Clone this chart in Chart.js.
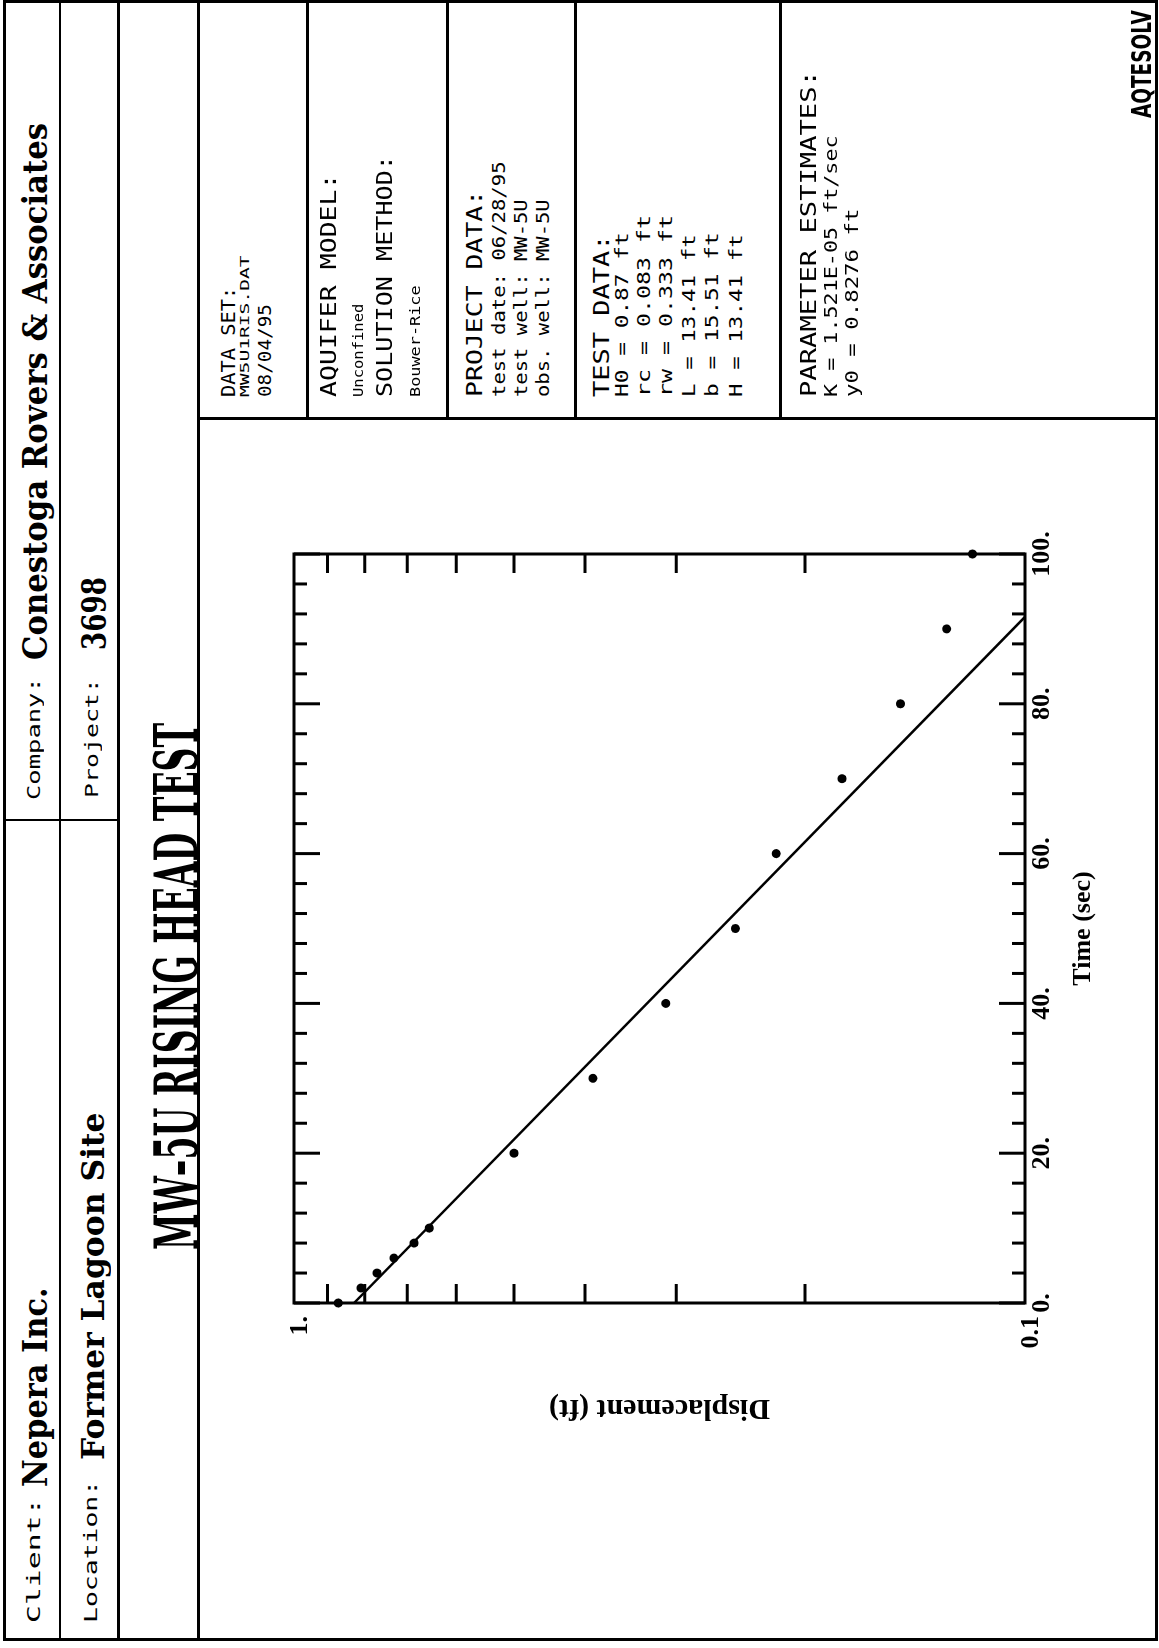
<!DOCTYPE html>
<html>
<head>
<meta charset="utf-8">
<script src="https://cdn.jsdelivr.net/npm/chart.js@4.4.0/dist/chart.umd.min.js"></script>
<style>
  html, body { margin: 0; padding: 0; background: #fff; }
  body { width: 1159px; height: 1648px; overflow: hidden; position: relative; }
  #page { position: absolute; left: 0; top: 0; width: 1648px; height: 1159px;
          transform-origin: 0 0; transform: translate(0, 1648px) rotate(-90deg); background: #fff; }
  .ln { position: absolute; background: #000; }
  .t { position: absolute; white-space: pre; line-height: 1; display: inline-block; transform-origin: 0 0; color: #000; }
  .mono { font-family: "DejaVu Sans Mono", monospace; }
  .bold { font-family: "DejaVu Serif", serif; font-weight: bold; }
  .sansb { font-family: "DejaVu Sans", sans-serif; font-weight: bold; }
  #chartBox { position: absolute; left: 7px; top: 199px; width: 1223px; height: 956px; }
</style>
</head>
<body>
<div id="page">
  <div id="chartBox"><canvas id="slugChart" width="1223" height="956"></canvas></div>
</div>
<script>
// measured values, time in seconds, displacement in feet
const timeSec = [0, 2, 4, 6, 8, 10, 20, 30, 40, 50, 60, 70, 80, 90, 100];
const dispFt = [0.87, 0.81, 0.77, 0.73, 0.685, 0.653, 0.50, 0.39, 0.31, 0.249, 0.219, 0.178, 0.148, 0.128, 0.118];

// Bouwer-Rice fitted line end points
const fitTime = [0, 91.6];
const fitDisp = [0.8276, 0.1];

// axis ticks
const timeMajor = [0, 20, 40, 60, 80, 100];
const timeMinor = [4, 8, 12, 16, 24, 28, 32, 36, 44, 48, 52, 56, 64, 68, 72, 76, 84, 88, 92, 96];
const dispTickValues = [0.1, 1];
const dispTickText = ['0.1', '1.'];
const dispMinor = [0.2, 0.3, 0.4, 0.5, 0.6, 0.7, 0.8, 0.9];

const page = document.getElementById('page');

function line(x, y, w, h) {
  const d = document.createElement('div');
  d.className = 'ln';
  d.style.left = x + 'px';
  d.style.top = y + 'px';
  d.style.width = w + 'px';
  d.style.height = h + 'px';
  page.appendChild(d);
}

function put(cls, str, x, base, size, w) {
  const el = document.createElement('div');
  el.className = 't ' + cls;
  el.textContent = str;
  el.style.fontSize = size + 'px';
  el.style.left = x + 'px';
  el.style.top = (base - 0.846 * size) + 'px';
  if (w) el.dataset.w = w;
  page.appendChild(el);
}

// frame
line(7, 3, 3, 1155);
line(1645, 3, 3, 1155);
line(7, 3, 1641, 3);
line(7, 1155, 1641, 3);
line(7, 59, 1641, 2);
line(7, 117, 1641, 3);
line(7, 197, 1641, 3);
line(827, 3, 2, 115);
line(1228, 197, 3, 961);
[306, 446, 574, 779].forEach(y => line(1228, y, 420, 3));

// header
put('mono', 'Client:', 25, 40, 17, 126);
put('bold', 'Nepera Inc.', 161, 47, 33, 200);
put('mono', 'Company:', 848, 40, 17, 123);
put('bold', 'Conestoga Rovers & Associates', 988, 47, 33, 537);
put('mono', 'Location:', 25, 97, 17, 143);
put('bold', 'Former Lagoon Site', 188, 104, 31, 347);
put('mono', 'Project:', 850, 98, 17, 120);
put('bold', '3698', 998, 106, 33, 73);
put('bold', 'MW\u20135U RISING HEAD TEST', 398, 197, 60, 527);

// info panel
put('mono', 'DATA SET:', 1251, 235, 20, 110);
put('mono', 'MW5U1RIS.DAT', 1251, 249, 12, 142);
put('mono', '08/04/95', 1251, 271, 17, 93);
put('mono', 'AQUIFER MODEL:', 1251, 337, 22, 223);
put('mono', 'Unconfined', 1251, 363, 14, 93);
put('mono', 'SOLUTION METHOD:', 1251, 393, 22, 242);
put('mono', 'Bouwer-Rice', 1251, 420, 14, 112);
put('mono', 'PROJECT DATA:', 1251, 483, 22, 207);
put('mono', 'test date: 06/28/95', 1251, 505, 17, 235);
put('mono', 'test well: MW-5U', 1251, 527, 17, 198);
put('mono', 'obs. well: MW-5U', 1251, 549, 17, 198);
put('mono', 'TEST DATA:', 1251, 610, 22, 162);
put('mono', 'H0 = 0.87 ft', 1251, 628, 17, 165);
put('mono', 'rc = 0.083 ft', 1251, 650, 17, 182);
put('mono', 'rw = 0.333 ft', 1251, 672, 17, 182);
put('mono', 'L = 13.41 ft', 1251, 695, 17, 163);
put('mono', 'b = 15.51 ft', 1251, 718, 17, 165);
put('mono', 'H = 13.41 ft', 1251, 742, 17, 163);
put('mono', 'PARAMETER ESTIMATES:', 1251, 817, 22, 327);
put('mono', 'K = 1.521E-05 ft/sec', 1251, 837, 17, 262);
put('mono', 'y0 = 0.8276 ft', 1251, 858, 17, 188);
put('sansb', 'AQTESOLV', 1530, 1151, 26, 108);

document.querySelectorAll('.t').forEach(el => {
  const w = el.offsetWidth;
  if (el.dataset.w && w) el.style.transform = 'scaleX(' + (el.dataset.w / w) + ')';
});

const frameTicks = {
  id: 'frameTicks',
  afterDatasetsDraw(chart) {
    const {ctx, chartArea: a, scales: {x, y}} = chart;
    ctx.save();
    ctx.strokeStyle = '#000';
    ctx.lineWidth = 3;
    ctx.strokeRect(a.left, a.top, a.right - a.left, a.bottom - a.top);
    ctx.beginPath();
    timeMajor.concat(timeMinor).forEach(v => {
      const len = timeMajor.includes(v) ? 26 : 13;
      const px = x.getPixelForValue(v);
      ctx.moveTo(px, a.top); ctx.lineTo(px, a.top + len);
      ctx.moveTo(px, a.bottom); ctx.lineTo(px, a.bottom - len);
    });
    dispMinor.forEach(v => {
      const py = y.getPixelForValue(v);
      ctx.moveTo(a.left, py); ctx.lineTo(a.left + 19, py);
      ctx.moveTo(a.right, py); ctx.lineTo(a.right - 19, py);
    });
    ctx.stroke();
    ctx.restore();
  }
};

const serifBold = {family: 'Liberation Serif', weight: 'bold'};

new Chart(document.getElementById('slugChart').getContext('2d'), {
  type: 'scatter',
  data: {
    datasets: [
      {
        label: 'Data',
        data: timeSec.map((t, i) => ({x: t, y: dispFt[i]})),
        pointRadius: 4.5,
        pointBackgroundColor: '#000',
        pointBorderWidth: 0,
        clip: false
      },
      {
        label: 'Fit',
        data: fitTime.map((t, i) => ({x: t, y: fitDisp[i]})),
        showLine: true,
        borderColor: '#000',
        borderWidth: 2.5,
        pointRadius: 0
      }
    ]
  },
  options: {
    responsive: false,
    animation: false,
    layout: {padding: {top: 95, right: 136, left: 0, bottom: 0}},
    plugins: {legend: {display: false}, tooltip: {enabled: false}},
    scales: {
      x: {
        type: 'linear',
        min: 0,
        max: 100,
        afterBuildTicks: s => { s.ticks = timeMajor.map(v => ({value: v})); },
        afterFit: s => { s.height = 130; },
        grid: {display: false, drawTicks: false},
        border: {display: false},
        ticks: {callback: v => v + '.', padding: 2, color: '#000', maxRotation: 0, autoSkip: false,
                font: Object.assign({size: 26}, serifBold)},
        title: {display: true, text: 'Time (sec)', color: '#000', padding: {top: 0, bottom: 56},
                font: Object.assign({size: 26}, serifBold)}
      },
      y: {
        type: 'logarithmic',
        min: 0.1,
        max: 1,
        afterBuildTicks: s => { s.ticks = dispTickValues.map(v => ({value: v})); },
        afterFit: s => { s.width = 338; },
        grid: {display: false, drawTicks: false},
        border: {display: false},
        ticks: {callback: v => dispTickText[dispTickValues.indexOf(v)], padding: 13, labelOffset: 6,
                color: '#000', autoSkip: false, font: Object.assign({size: 26}, serifBold)},
        title: {display: true, text: 'Displacement (ft)', color: '#000', padding: {top: 215, bottom: 0},
                font: Object.assign({size: 30}, serifBold)}
      }
    }
  },
  plugins: [frameTicks]
});
</script>
</body>
</html>
